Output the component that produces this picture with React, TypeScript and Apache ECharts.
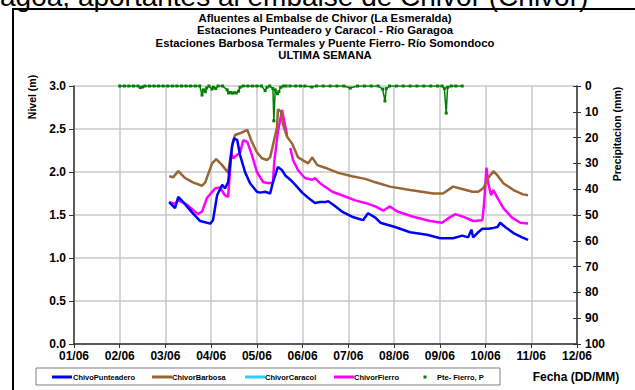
import React, { useEffect, useRef } from 'react';
import * as echarts from 'echarts';

const FONT = 'Liberation Sans, Arial, Helvetica, sans-serif';

const xTickLabels = ['01/06', '02/06', '03/06', '04/06', '05/06', '06/06', '07/06', '08/06', '09/06', '10/06', '11/06', '12/06'];

const titleLines = [
  'Afluentes al Embalse de Chivor (La Esmeralda)',
  'Estaciones Punteadero y Caracol - Río Garagoa',
  'Estaciones Barbosa Termales y Puente Fierro- Río Somondoco',
  'ULTIMA SEMANA',
];

const seriesNames = ['ChivoPunteadero', 'ChivorBarbosa', 'ChivorCaracol', 'ChivorFierro', 'Pte- Fierro, P'];
const seriesColors = ['#0000ff', '#996633', '#33ccff', '#ff00ff', '#008000'];

// time in days since 01/06 00:00
const punteaderoT = [2.08, 2.21, 2.28, 2.39, 2.58, 2.76, 2.98, 3.04, 3.13, 3.24, 3.30, 3.37, 3.46, 3.50, 3.57, 3.63, 3.74, 3.85, 4.00, 4.07, 4.18, 4.29, 4.35, 4.46, 4.55, 4.62, 4.73, 4.84, 4.99, 5.12, 5.27, 5.38, 5.49, 5.56, 5.67, 5.86, 6.08, 6.32, 6.43, 6.59, 6.70, 7.02, 7.35, 7.72, 8.01, 8.29, 8.49, 8.62, 8.69, 8.73, 8.82, 8.93, 9.06, 9.17, 9.26, 9.32, 9.43, 9.61, 9.80, 9.93];
const punteaderoV = [1.65, 1.58, 1.71, 1.65, 1.53, 1.43, 1.40, 1.44, 1.73, 1.85, 1.81, 1.88, 2.31, 2.39, 2.37, 2.20, 2.00, 1.87, 1.77, 1.76, 1.77, 1.75, 1.88, 2.06, 2.02, 1.96, 1.91, 1.85, 1.76, 1.70, 1.64, 1.65, 1.65, 1.66, 1.62, 1.54, 1.48, 1.44, 1.52, 1.47, 1.41, 1.36, 1.30, 1.27, 1.23, 1.23, 1.26, 1.24, 1.33, 1.24, 1.29, 1.34, 1.34, 1.35, 1.36, 1.41, 1.36, 1.29, 1.24, 1.21];

const barbosaT = [2.08, 2.17, 2.28, 2.43, 2.60, 2.80, 2.87, 3.02, 3.11, 3.24, 3.37, 3.46, 3.52, 3.63, 3.79, 3.89, 4.00, 4.11, 4.22, 4.29, 4.35, 4.44, 4.46, 4.53, 4.57, 4.66, 4.77, 4.90, 5.12, 5.21, 5.32, 5.49, 5.78, 6.08, 6.37, 6.59, 6.91, 7.35, 7.86, 8.07, 8.29, 8.51, 8.71, 8.84, 8.95, 9.06, 9.17, 9.26, 9.39, 9.61, 9.82, 9.93];
const barbosaV = [1.95, 1.94, 2.01, 1.93, 1.88, 1.84, 1.88, 2.10, 2.15, 2.08, 1.99, 2.31, 2.43, 2.45, 2.49, 2.35, 2.23, 2.16, 2.14, 2.17, 2.31, 2.52, 2.73, 2.70, 2.55, 2.41, 2.33, 2.17, 2.10, 2.17, 2.08, 2.05, 1.99, 1.95, 1.92, 1.88, 1.83, 1.79, 1.75, 1.75, 1.83, 1.80, 1.77, 1.77, 1.81, 1.93, 2.01, 1.96, 1.87, 1.79, 1.74, 1.73];

const caracolT: number[] = [];
const caracolV: number[] = [];

const fierroT = [2.08, 2.21, 2.28, 2.47, 2.71, 2.80, 2.91, 3.09, 3.19, 3.30, 3.37, 3.44, 3.48, 3.57, 3.63, 3.70, 3.79, 3.89, 4.00, 4.14, 4.29, 4.35, 4.38, 4.46, 4.55, 4.60, 4.66, 4.70, 4.73, 4.79, 4.90, 5.05, 5.21, 5.27, 5.38, 5.65, 5.86, 6.15, 6.43, 6.59, 6.76, 6.91, 7.07, 7.42, 7.79, 8.05, 8.18, 8.34, 8.51, 8.73, 8.93, 8.97, 9.02, 9.06, 9.12, 9.17, 9.26, 9.39, 9.58, 9.76, 9.93];
const fierroV = [1.65, 1.63, 1.67, 1.62, 1.51, 1.54, 1.70, 1.81, 1.82, 1.73, 1.71, 2.22, 2.16, 2.20, 2.22, 2.37, 2.35, 2.20, 2.00, 1.88, 1.87, 1.88, 2.12, 2.47, 2.72, 2.58, 2.43, null, 2.28, 2.14, 2.02, 1.93, 1.91, 1.93, 1.87, 1.77, 1.73, 1.67, 1.63, 1.60, 1.55, 1.60, 1.54, 1.48, 1.43, 1.41, 1.46, 1.51, 1.48, 1.43, 1.44, 1.64, 2.05, 1.87, 1.73, 1.79, 1.70, 1.58, 1.47, 1.41, 1.40];

const precipT = [1.00, 1.10, 1.20, 1.30, 1.40, 1.45, 1.50, 1.55, 1.65, 1.75, 1.85, 1.95, 2.05, 2.15, 2.25, 2.35, 2.45, 2.55, 2.65, 2.75, 2.80, 2.83, 2.87, 2.90, 2.95, 3.02, 3.05, 3.10, 3.15, 3.25, 3.35, 3.38, 3.42, 3.46, 3.50, 3.55, 3.60, 3.63, 3.70, 3.80, 3.90, 4.00, 4.10, 4.18, 4.22, 4.28, 4.35, 4.37, 4.40, 4.45, 4.48, 4.52, 4.58, 4.64, 4.68, 4.72, 4.85, 4.95, 5.05, 5.20, 5.30, 5.45, 5.60, 5.75, 5.90, 6.04, 6.20, 6.35, 6.50, 6.65, 6.75, 6.80, 6.83, 6.90, 7.05, 7.20, 7.35, 7.50, 7.65, 7.80, 7.95, 8.05, 8.10, 8.14, 8.17, 8.25, 8.35, 8.49];
const precipMm = [0, 0, 0, 0, 0, 0.6, 0.4, 0, 0, 0, 0, 0, 0, 0, 0, 0, 0, 0, 0, 0, 3.5, 1.5, 2.2, 0.8, 0, 1.2, 0.5, 1.0, 0, 0, 1.5, 2.7, 2.5, 2.8, 2.6, 2.7, 2.0, 0.5, 0, 0, 0, 0, 0, 1.8, 0.5, 0, 1.0, 13.5, 1.5, 3.0, 2.2, 0.5, 0, 0, null, 0, 0, 0, 0, 0.4, 0, 0, 0, 0, 0, 0.8, 0, 0, 0, 0, 1.2, 5.8, 1.0, 0, 0, 0, 0, 0, 0, 0, 0, 0, 1.0, 10.5, 0.5, 0, 0, 0];

const zip = (t: number[], v: (number | null)[]) => t.map((x, i) => [x, v[i] === null ? '-' : v[i]]);

export default function App() {
  const ref = useRef<HTMLDivElement>(null);
  useEffect(() => {
    if (!ref.current) return;
    const chart = echarts.init(ref.current, null, { renderer: 'svg' });
    const bold = (size: number) => ({ fontFamily: FONT, fontWeight: 'bold' as const, fontSize: size, color: '#000' });
    const txt = (text: string, x: number, y: number, size: number, align = 'center', rotation = 0, weight = 'bold') => ({
      type: 'text', x, y, rotation, silent: true,
      style: {
        text, fill: '#000', fontFamily: FONT, fontWeight: weight, fontSize: size,
        textAlign: align, align, textVerticalAlign: 'middle', verticalAlign: 'middle',
      },
    });
    const legendItems = [
      { x: 52, tx: 73 },
      { x: 152, tx: 172 },
      { x: 245, tx: 265 },
      { x: 334, tx: 354 },
      { x: 425, tx: 437 },
    ];
    const legendGraphics: any[] = [
      { type: 'rect', shape: { x: 36, y: 368, width: 464, height: 17 }, style: { fill: '#fff', stroke: '#808080', lineWidth: 1 }, silent: true },
    ];
    legendItems.forEach((it, i) => {
      if (i < 4) {
        legendGraphics.push({ type: 'line', shape: { x1: it.x, y1: 377, x2: it.x + 20, y2: 377 }, style: { stroke: seriesColors[i], lineWidth: 3 }, silent: true });
      } else {
        legendGraphics.push({ type: 'rect', shape: { x: it.x - 1.5, y: 375.5, width: 3, height: 3 }, style: { fill: seriesColors[i] }, silent: true });
      }
      legendGraphics.push(txt(seriesNames[i], it.tx, 377, 7.5, 'left'));
    });

    const lineSeries = (i: number, t: number[], v: (number | null)[]) => ({
      name: seriesNames[i], type: 'line', xAxisIndex: 0, yAxisIndex: 0,
      data: zip(t, v), symbol: 'none', connectNulls: false,
      lineStyle: { color: seriesColors[i], width: 2.5 }, itemStyle: { color: seriesColors[i] },
    });

    chart.setOption({
      animation: false,
      backgroundColor: '#fff',
      grid: { left: 74, right: 58, top: 86, bottom: 46, containLabel: false },
      xAxis: {
        type: 'value', min: 0, max: 11, interval: 1,
        axisLine: { show: true, lineStyle: { color: '#333', width: 1.5 } },
        axisTick: { show: true, length: 4, lineStyle: { color: '#333' } },
        axisLabel: { ...bold(12), margin: 6, showMinLabel: true, showMaxLabel: true, formatter: (v: number) => xTickLabels[Math.round(v)] },
        splitLine: { show: true, lineStyle: { color: '#c8c8c8', width: 1.5 } },
      },
      yAxis: [
        {
          type: 'value', min: 0, max: 3, interval: 0.5, position: 'left',
          axisLine: { show: true, lineStyle: { color: '#333', width: 1.5 } },
          axisTick: { show: true, length: 5, lineStyle: { color: '#333' } },
          axisLabel: { ...bold(12), margin: 8, showMinLabel: true, showMaxLabel: true, formatter: (v: number) => v.toFixed(1) },
          splitLine: { show: true, lineStyle: { color: '#c8c8c8', width: 1.5 } },
        },
        {
          type: 'value', min: 0, max: 100, interval: 10, position: 'right', inverse: true,
          axisLine: { show: true, lineStyle: { color: '#333', width: 1.5 } },
          axisTick: { show: true, length: 4, lineStyle: { color: '#333' } },
          axisLabel: { ...bold(12), margin: 8, showMinLabel: true, showMaxLabel: true },
          splitLine: { show: false },
        },
        {
          type: 'value', min: 0, max: 100, interval: 10, position: 'right', inverse: true,
          axisLine: { show: false },
          axisTick: { show: true, inside: true, length: 4, lineStyle: { color: '#333' } },
          axisLabel: { show: false },
          splitLine: { show: false },
        },
      ],
      series: [
        lineSeries(3, fierroT, fierroV),
        lineSeries(1, barbosaT, barbosaV),
        lineSeries(2, caracolT, caracolV),
        lineSeries(0, punteaderoT, punteaderoV),
        {
          name: seriesNames[4], type: 'line', xAxisIndex: 0, yAxisIndex: 1,
          data: zip(precipT, precipMm), symbol: 'rect', symbolSize: 3, showSymbol: true, connectNulls: false,
          lineStyle: { color: seriesColors[4], width: 1.5 }, itemStyle: { color: seriesColors[4] },
        },
      ],
      graphic: [
        {
          type: 'text', x: -98, y: 10.5, silent: true,
          style: { text: 'Río Garagoa, aportantes al embalse de Chivor (Chivor)', fill: '#000', fontFamily: FONT, fontSize: 28, textAlign: 'left', align: 'left', textVerticalAlign: 'bottom', verticalAlign: 'bottom' },
        },
        { type: 'rect', shape: { x: 13, y: 9, width: 660, height: 420 }, style: { fill: 'none', stroke: '#000', lineWidth: 2 }, silent: true },
        ...titleLines.map((t, i) => txt(t, 325, 17.5 + i * 12.5, 11.3)),
        txt('Nivel (m)', 32, 97, 10.5, 'center', Math.PI / 2),
        txt('Precipitacion (mm)', 617, 134, 10.5, 'center', Math.PI / 2),
        txt('Fecha (DD/MM)', 576, 377, 12),
        ...legendGraphics,
      ],
    });
    return () => chart.dispose();
  }, []);
  return <div ref={ref} style={{ position: 'absolute', left: 0, top: 0, width: 635, height: 390, background: '#fff' }} />;
}
